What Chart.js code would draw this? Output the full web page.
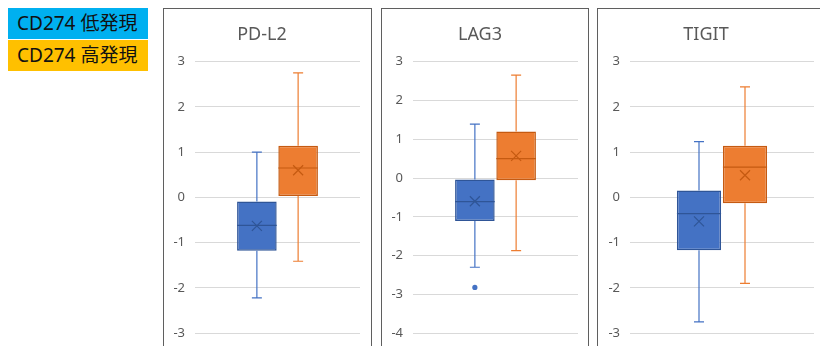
<!DOCTYPE html>
<html>
<head>
<meta charset="utf-8">
<script src="https://cdn.jsdelivr.net/npm/chart.js@4"></script>
<style>
  body { margin: 0; background: #fff; width: 820px; height: 346px; overflow: hidden; position: relative;
         font-family: "Noto Sans", "Noto Sans CJK JP", sans-serif; }
  .legend { position: absolute; left: 8px; width: 140px; height: 31px; line-height: 31px;
            font-size: 19px; color: #111; padding-left: 9px; box-sizing: border-box;
            font-family: "Noto Sans", "Noto Sans CJK JP", sans-serif; }
  .panel { position: absolute; top: 8px; height: 360px; border: 1.5px solid #5f5f5f; box-sizing: border-box; overflow: hidden; }
  .panel canvas { position: absolute; left: 0; top: 0; }
</style>
</head>
<body>
<div class="legend" id="lg0" style="top:8px;background:#00B0F0"></div>
<div class="legend" id="lg1" style="top:40px;background:#FFC000"></div>
<div class="panel" style="left:163px;width:209px"><canvas id="c0" width="207" height="342"></canvas></div>
<div class="panel" style="left:381px;width:208px"><canvas id="c1" width="207" height="342"></canvas></div>
<div class="panel" style="left:597px;width:232px"><canvas id="c2" width="227" height="342"></canvas></div>
<script>
// ── data ─────────────────────────────────────
const groups = ['CD274 低発現', 'CD274 高発現'];
const panels = ['PD-L2', 'LAG3', 'TIGIT'];
const yMin = [-3, -4, -3];
const yMax = [3, 3, 3];

const lowMin    = [-2.22, -2.30, -2.75];
const lowQ1     = [-1.18, -1.11, -1.17];
const lowMedian = [-0.62, -0.61, -0.36];
const lowMean   = [-0.63, -0.60, -0.53];
const lowQ3     = [-0.09, -0.04, 0.15];
const lowMax    = [1.00, 1.39, 1.23];
const lowOutliers = [[], [-2.82], []];

const highMin    = [-1.41, -1.87, -1.90];
const highQ1     = [0.03, -0.06, -0.13];
const highMedian = [0.65, 0.50, 0.67];
const highMean   = [0.60, 0.57, 0.49];
const highQ3     = [1.14, 1.20, 1.14];
const highMax    = [2.75, 2.65, 2.44];
const highOutliers = [[], [], []];

document.getElementById('lg0').textContent = groups[0];
document.getElementById('lg1').textContent = groups[1];

const FILL = ['#4472C4', '#ED7D31'];
const EDGE = ['#2F5597', '#C55A11'];
const FONT = '"Noto Sans", "Noto Sans CJK JP", sans-serif';

// whiskers, median, mean marker and outliers, placed with the chart's own scales
const boxExtras = {
  id: 'boxExtras',
  afterDatasetsDraw(chart) {
    const ctx = chart.ctx, y = chart.scales.y;
    chart.data.datasets.forEach((ds, di) => {
      const bar = chart.getDatasetMeta(di).data[0];
      const s = ds.stats, x = bar.x, hw = bar.width / 2;
      const py = v => y.getPixelForValue(v);
      ctx.save();
      // whiskers
      ctx.strokeStyle = FILL[di]; ctx.lineWidth = 1.2;
      ctx.beginPath();
      ctx.moveTo(x, py(s.q3)); ctx.lineTo(x, py(s.max));
      ctx.moveTo(x - 5, py(s.max)); ctx.lineTo(x + 5, py(s.max));
      ctx.moveTo(x, py(s.q1)); ctx.lineTo(x, py(s.min));
      ctx.moveTo(x - 5, py(s.min)); ctx.lineTo(x + 5, py(s.min));
      ctx.stroke();
      // median
      ctx.strokeStyle = EDGE[di]; ctx.lineWidth = 1.2;
      ctx.beginPath();
      ctx.moveTo(x - hw, py(s.median)); ctx.lineTo(x + hw, py(s.median));
      ctx.stroke();
      // mean ×
      const my = py(s.mean), r = 5;
      ctx.beginPath();
      ctx.moveTo(x - r, my - r); ctx.lineTo(x + r, my + r);
      ctx.moveTo(x - r, my + r); ctx.lineTo(x + r, my - r);
      ctx.stroke();
      // outliers
      ctx.fillStyle = FILL[di];
      s.outliers.forEach(v => { ctx.beginPath(); ctx.arc(x, py(v), 2.6, 0, Math.PI * 2); ctx.fill(); });
      ctx.restore();
    });
  }
};

function stats(i, hi) {
  return hi
    ? { min: highMin[i], q1: highQ1[i], median: highMedian[i], mean: highMean[i], q3: highQ3[i], max: highMax[i], outliers: highOutliers[i] }
    : { min: lowMin[i], q1: lowQ1[i], median: lowMedian[i], mean: lowMean[i], q3: lowQ3[i], max: lowMax[i], outliers: lowOutliers[i] };
}

const axisW = [31, 31, 32];

panels.forEach((name, i) => {
  new Chart(document.getElementById('c' + i), {
    type: 'bar',
    data: {
      labels: [name],
      datasets: [0, 1].map(g => ({
        label: groups[g],
        data: [[g ? highQ1[i] : lowQ1[i], g ? highQ3[i] : lowQ3[i]]],
        stats: stats(i, g === 1),
        backgroundColor: FILL[g], borderColor: EDGE[g], borderWidth: 1.5, borderSkipped: false,
        categoryPercentage: 0.5, barPercentage: 0.96
      }))
    },
    options: {
      responsive: false, animation: false,
      layout: { padding: { left: 0, right: 11, bottom: 11 } },
      plugins: {
        legend: { display: false }, tooltip: { enabled: false },
        title: { display: true, text: name, color: '#595959', font: { family: FONT, size: 18, weight: 'normal' }, padding: { top: 15, bottom: 16 } }
      },
      scales: {
        x: { display: false },
        y: {
          min: yMin[i], max: yMax[i],
          afterFit: sc => { sc.width = axisW[i]; },
          ticks: { stepSize: 1, padding: 10, color: '#595959', font: { family: FONT, size: 13 } },
          grid: { color: '#d9d9d9', drawTicks: false },
          border: { display: false }
        }
      }
    },
    plugins: [boxExtras]
  });
});
</script>
</body>
</html>
